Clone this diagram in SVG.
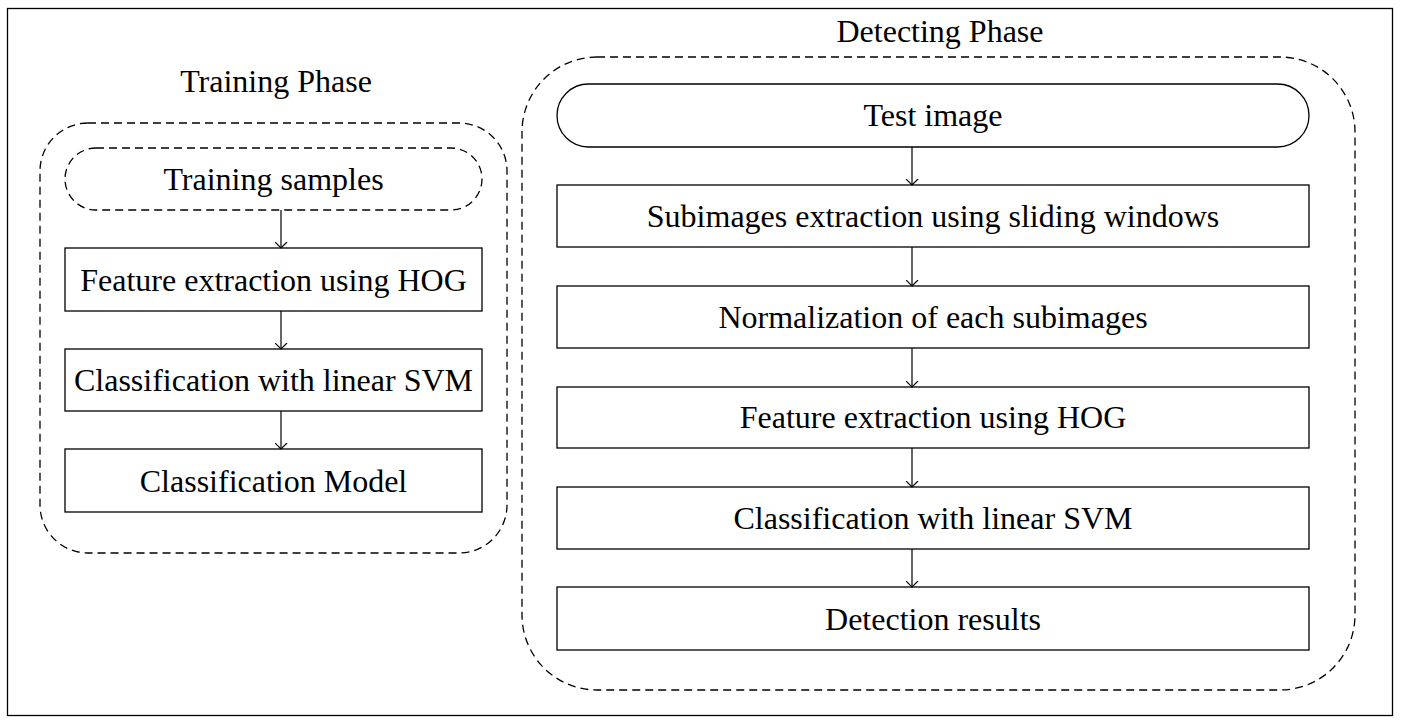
<svg xmlns="http://www.w3.org/2000/svg" width="1401" height="723" viewBox="0 0 1401 723">
<defs>
<style>
.t{font-family:"Liberation Serif","Times New Roman",serif;font-size:32px;fill:#000;text-anchor:middle}
.box{fill:#fff;stroke:#000;stroke-width:1.3}
.dash{fill:none;stroke:#000;stroke-width:1.3;stroke-dasharray:8,5}
.arr{stroke:#000;stroke-width:1.2;fill:none;marker-end:url(#ah)}
</style>
<marker id="ah" viewBox="0 0 7 13" refX="6.5" refY="6.5" markerWidth="7" markerHeight="13" markerUnits="userSpaceOnUse" orient="auto">
<path d="M0.5,0.5 L6.5,6.5 L0.5,12.5" fill="none" stroke="#000" stroke-width="1.2"/>
</marker>
</defs>
<rect x="0" y="0" width="1401" height="723" fill="#fff"/>
<rect id="frame" x="7.5" y="8.5" width="1385" height="707" fill="none" stroke="#000" stroke-width="1.3"/>
<g id="training-phase">
<text class="t" x="276" y="92">Training Phase</text>
<rect class="dash" x="40" y="123" width="467" height="430" rx="48" ry="48"/>
</g>
<g id="detecting-phase">
<text class="t" x="940" y="42">Detecting Phase</text>
<rect class="dash" x="522" y="57" width="833" height="633" rx="75" ry="75"/>
</g>
<g id="training-samples">
<rect class="dash" x="65" y="148" width="417" height="62" rx="31" ry="31"/>
<text class="t" x="273.5" y="190">Training samples</text>
</g>
<g id="t-feature">
<rect class="box" x="65" y="248" width="417" height="63"/>
<text class="t" x="273.5" y="291">Feature extraction using HOG</text>
</g>
<g id="t-classification">
<rect class="box" x="65" y="349" width="417" height="62"/>
<text class="t" x="273.5" y="391">Classification with linear SVM</text>
</g>
<g id="t-model">
<rect class="box" x="65" y="449" width="417" height="63"/>
<text class="t" x="273.5" y="492">Classification Model</text>
</g>
<g id="test-image">
<rect class="box" x="557" y="84" width="752" height="63" rx="31.5" ry="31.5"/>
<text class="t" x="933" y="126">Test image</text>
</g>
<g id="d-subimages">
<rect class="box" x="557" y="185" width="752" height="62"/>
<text class="t" x="933" y="227">Subimages extraction using sliding windows</text>
</g>
<g id="d-normalization">
<rect class="box" x="557" y="286" width="752" height="62"/>
<text class="t" x="933" y="328">Normalization of each subimages</text>
</g>
<g id="d-feature">
<rect class="box" x="557" y="387" width="752" height="61"/>
<text class="t" x="933" y="428">Feature extraction using HOG</text>
</g>
<g id="d-classification">
<rect class="box" x="557" y="487" width="752" height="62"/>
<text class="t" x="933" y="529">Classification with linear SVM</text>
</g>
<g id="d-results">
<rect class="box" x="557" y="587" width="752" height="63"/>
<text class="t" x="933" y="630">Detection results</text>
</g>
<g id="connectors">
<path class="arr" d="M281,210 V248"/>
<path class="arr" d="M281,311 V349"/>
<path class="arr" d="M281,411 V449"/>
<path class="arr" d="M912,147 V185"/>
<path class="arr" d="M912,247 V286"/>
<path class="arr" d="M912,348 V387"/>
<path class="arr" d="M912,448 V487"/>
<path class="arr" d="M912,549 V587"/>
</g>
</svg>
